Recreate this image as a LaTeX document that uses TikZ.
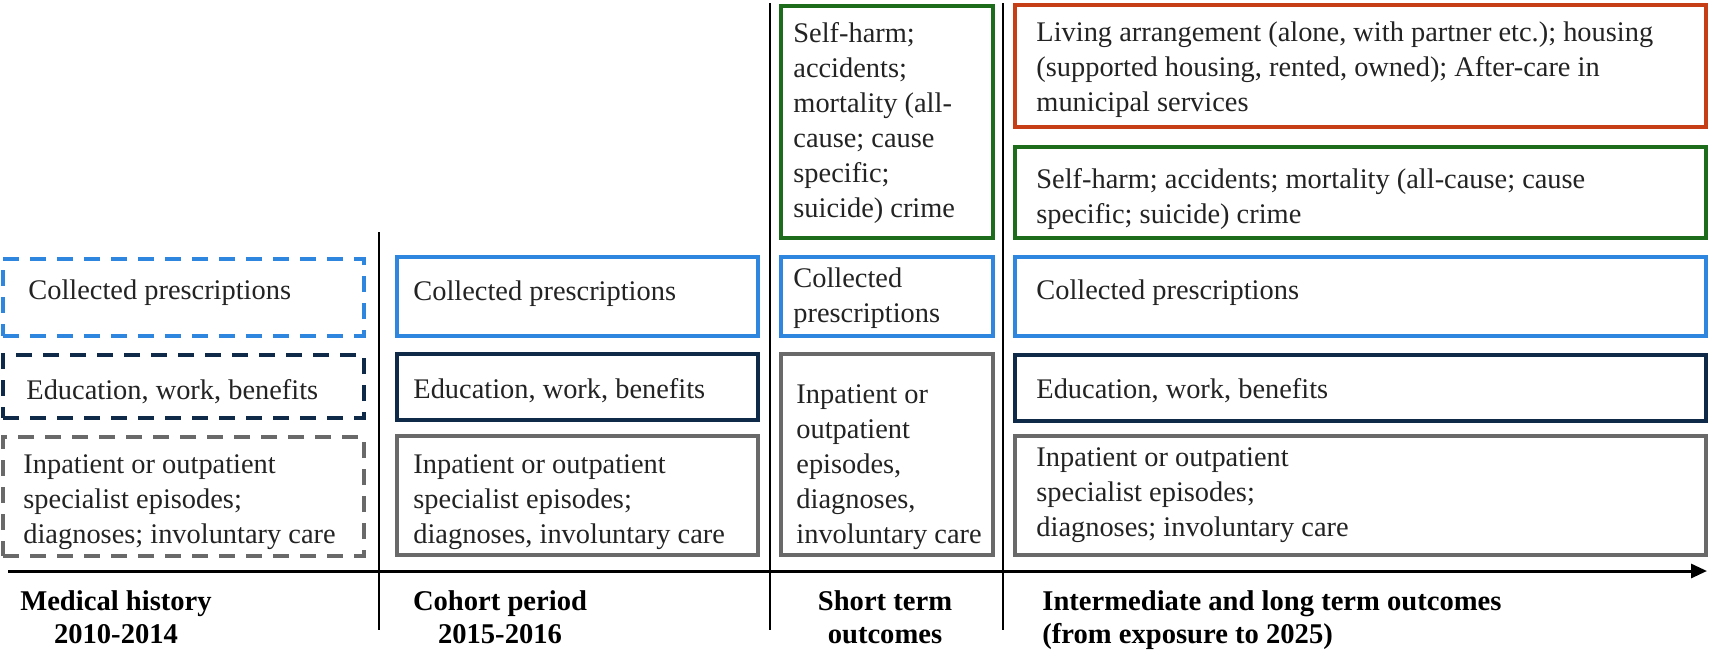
\documentclass[tikz,border=0pt]{standalone}
\usepackage{fontspec}
\setmainfont{Liberation Serif}
\usetikzlibrary{arrows.meta}
\definecolor{cblue}{RGB}{46,134,222}
\definecolor{cnavy}{RGB}{15,42,72}
\definecolor{cgray}{RGB}{105,105,105}
\definecolor{cgreen}{RGB}{28,108,28}
\definecolor{cred}{RGB}{197,62,22}
\definecolor{ctext}{RGB}{35,35,35}
\tikzset{
  box/.style={draw, rectangle, inner sep=0pt, line width=2.4pt},
  dbox/.style={box, line width=2pt, dash pattern=on 8pt off 5.5pt},
  txt/.style={anchor=north west, inner sep=0pt, align=left, text=ctext, font=\fontsize{14.2}{17.5}\selectfont},
  lbl/.style={anchor=north, inner sep=0pt, align=center, text=black, font=\fontsize{14.3}{16.5}\selectfont\bfseries},
  divider/.style={line width=1.3pt, black},
  axisline/.style={line width=1.5pt, black, -{Triangle[length=8pt,width=7pt]}},
}
\begin{document}
\begin{tikzpicture}[x=0.5pt,y=-0.5pt]
\fill[white] (0,0) rectangle (1713,654);
\useasboundingbox (0,0) rectangle (1713,654);

% column 1 (dashed)
\node[dbox, draw=cblue, minimum width=180.5pt, minimum height=38.5pt] (d1) at (183.5,297.5) {};
\node[dbox, draw=cnavy, minimum width=180.5pt, minimum height=31.5pt] (d2) at (183.5,386.5) {};
\node[dbox, draw=cgray, minimum width=180.5pt, minimum height=59.5pt] (d3) at (183.5,496.5) {};
\node[txt] (td1) at (28,275) {\strut Collected prescriptions};
\node[txt] (td2) at (26,375) {\strut Education, work, benefits};
\node[txt] (td3) at (23,448.5) {\strut Inpatient or outpatient\\specialist episodes;\\diagnoses; involuntary care};

% column 2
\node[box, draw=cblue, minimum width=180.5pt, minimum height=39.5pt] (s1) at (577.5,296.5) {};
\node[box, draw=cnavy, minimum width=180.5pt, minimum height=33pt] (s2) at (577.5,387) {};
\node[box, draw=cgray, minimum width=180.5pt, minimum height=59.5pt] (s3) at (577.5,495.5) {};
\node[txt] (ts1) at (413,275.5) {\strut Collected prescriptions};
\node[txt] (ts2) at (413,374) {\strut Education, work, benefits};
\node[txt] (ts3) at (413,448.5) {\strut Inpatient or outpatient\\specialist episodes;\\diagnoses, involuntary care};

% column 3
\node[box, draw=cgreen, minimum width=106pt, minimum height=116pt] (h1) at (887,122) {};
\node[box, draw=cblue, minimum width=106pt, minimum height=39.5pt] (h2) at (887,296.5) {};
\node[box, draw=cgray, minimum width=106pt, minimum height=100.5pt] (h3) at (887,454.5) {};
\node[txt] (th1) at (793,17.5) {\strut Self-harm;\\accidents;\\mortality (all-\\cause; cause\\specific;\\suicide) crime};
\node[txt] (th2) at (793,263) {\strut Collected\\prescriptions};
\node[txt] (th3) at (796,379) {\strut Inpatient or\\outpatient\\episodes,\\diagnoses,\\involuntary care};

% column 4
\node[box, draw=cred, minimum width=345.5pt, minimum height=61pt] (l1) at (1360.5,66) {};
\node[box, draw=cgreen, minimum width=345.5pt, minimum height=45.5pt] (l2) at (1360.5,192.5) {};
\node[box, draw=cblue, minimum width=345.5pt, minimum height=39.5pt] (l3) at (1360.5,296.5) {};
\node[box, draw=cnavy, minimum width=345.5pt, minimum height=33pt] (l4) at (1360.5,388) {};
\node[box, draw=cgray, minimum width=345.5pt, minimum height=59.5pt] (l5) at (1360.5,495.5) {};
\node[txt] (tl1) at (1036,17) {\strut Living arrangement (alone, with partner etc.); housing\\(supported housing, rented, owned); After-care in\\municipal services};
\node[txt] (tl2) at (1036,163.5) {\strut Self-harm; accidents; mortality (all-cause; cause\\specific; suicide) crime};
\node[txt] (tl3) at (1036,275) {\strut Collected prescriptions};
\node[txt] (tl4) at (1036,374) {\strut Education, work, benefits};
\node[txt] (tl5) at (1036,442) {\strut Inpatient or outpatient\\specialist episodes;\\diagnoses; involuntary care};

% dividers and axis
\coordinate (v1t) at (379,232);
\coordinate (v1b) at (379,630);
\coordinate (v2t) at (770,3);
\coordinate (v2b) at (770,630);
\coordinate (v3t) at (1003,3);
\coordinate (v3b) at (1003,630);
\coordinate (ax0) at (8,571);
\coordinate (ax1) at (1707,571);
\draw[divider] (v1t) -- (v1b);
\draw[divider] (v2t) -- (v2b);
\draw[divider] (v3t) -- (v3b);
\draw[axisline] (ax0) -- (ax1);

% period labels
\node[lbl] (p1) at (116,587) {\strut Medical history\\2010-2014};
\node[lbl] (p2) at (500,587) {\strut Cohort period\\2015-2016};
\node[lbl] (p3) at (885,587) {\strut Short term\\outcomes};
\node[lbl, anchor=north west, align=left] (p4) at (1042,587) {\strut Intermediate and long term outcomes\\(from exposure to 2025)};
\end{tikzpicture}
\end{document}
